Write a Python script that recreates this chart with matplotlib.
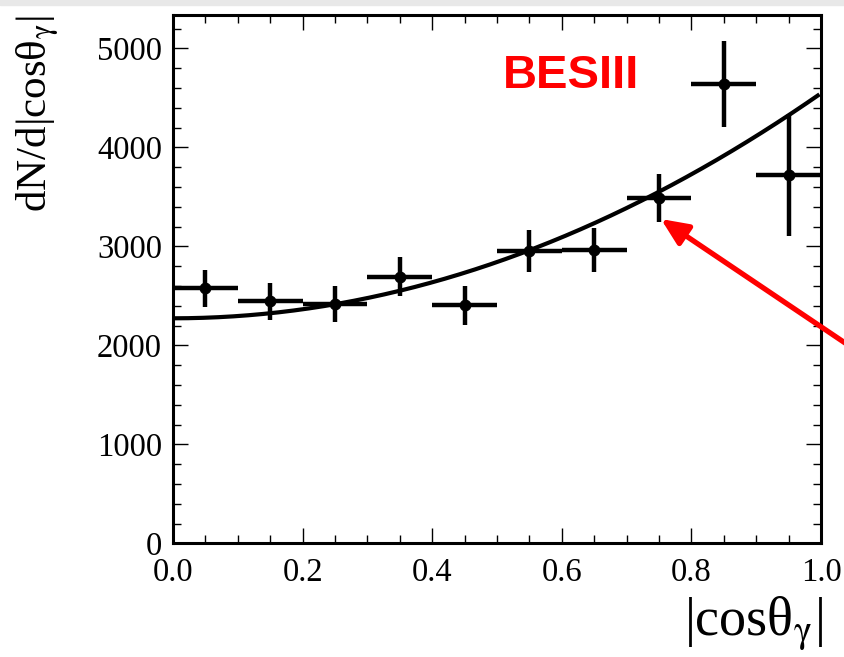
import numpy as np
import matplotlib
matplotlib.use("Agg")
import matplotlib.pyplot as plt
from matplotlib.patches import Rectangle
from matplotlib.ticker import MultipleLocator, FormatStrFormatter

plt.rcParams['font.family'] = ['Liberation Serif', 'DejaVu Serif']
plt.rcParams['mathtext.fontset'] = 'stix'

# data points (bin centres, counts, errors)
bin_centers = [0.05, 0.15, 0.25, 0.35, 0.45, 0.55, 0.65, 0.75, 0.85, 0.95]
bin_halfwidth = [0.05] * 10
counts = [2575, 2445, 2415, 2695, 2405, 2955, 2965, 3490, 4640, 3720]
count_err = [190, 185, 183, 200, 197, 214, 222, 245, 430, 620]

# fit curve N*(1 + alpha*cos^2)
fit_norm = 2273
fit_alpha = 1.0

W, H = 844, 657
fig = plt.figure(figsize=(W / 100, H / 100), dpi=100)
fig.patches.append(Rectangle((0, 1 - 5 / H), 1, 5 / H, transform=fig.transFigure,
                             color='#e8e8e8', zorder=0))

ax = fig.add_axes([173 / W, 1 - 543.3 / H, (821 - 173) / W, (543.3 - 14.7) / H])

xf = np.linspace(0, 0.995, 300)
ax.plot(xf, fit_norm * (1 + fit_alpha * xf ** 2), color='black', lw=3.0, zorder=2)

ax.errorbar(bin_centers, counts, xerr=bin_halfwidth, yerr=count_err, fmt='o',
            color='black', ms=7.5, elinewidth=3.2, capsize=0, zorder=3)

ax.set_xlim(0, 1.0)
ax.set_ylim(0, 5340)
ax.xaxis.set_major_locator(MultipleLocator(0.2))
ax.xaxis.set_minor_locator(MultipleLocator(0.05))
ax.yaxis.set_major_locator(MultipleLocator(1000))
ax.yaxis.set_minor_locator(MultipleLocator(200))
ax.xaxis.set_major_formatter(FormatStrFormatter('%.1f'))
ax.tick_params(which='both', direction='in', top=True, right=True,
               labelsize=23.5, width=1.0, color='black')
ax.tick_params(which='major', length=11)
ax.tick_params(which='minor', length=5.8)
ax.tick_params(axis='y', pad=8)
ax.tick_params(axis='x', pad=10)
for s in ax.spines.values():
    s.set_linewidth(2.2)

ax.text(0.615, 4720, 'BESIII', color='red', fontsize=34, fontweight='bold',
        family='Liberation Sans', ha='center', va='center')

# red arrow pointing at the 0.75 bin
ax.annotate('', xy=(0.753, 3276), xycoords='data',
            xytext=(860, H - 353), textcoords='figure pixels',
            arrowprops=dict(arrowstyle='-|>,head_length=0.9,head_width=0.4',
                            mutation_scale=18, lw=3.8, color='red',
                            shrinkA=0, shrinkB=0),
            annotation_clip=False, zorder=10)

fig.text(15 / W, 1 - 15 / H, 'dN/d|cosθ$_{\\mathrm{\\gamma}}$|', rotation=90,
         ha='left', va='top', fontsize=31)
fig.text(823 / W, 1 - 635 / H, '|cosθ$_{\\mathrm{\\gamma}}$|', ha='right',
         va='baseline', fontsize=39)

fig.savefig('out.png', dpi=100)
